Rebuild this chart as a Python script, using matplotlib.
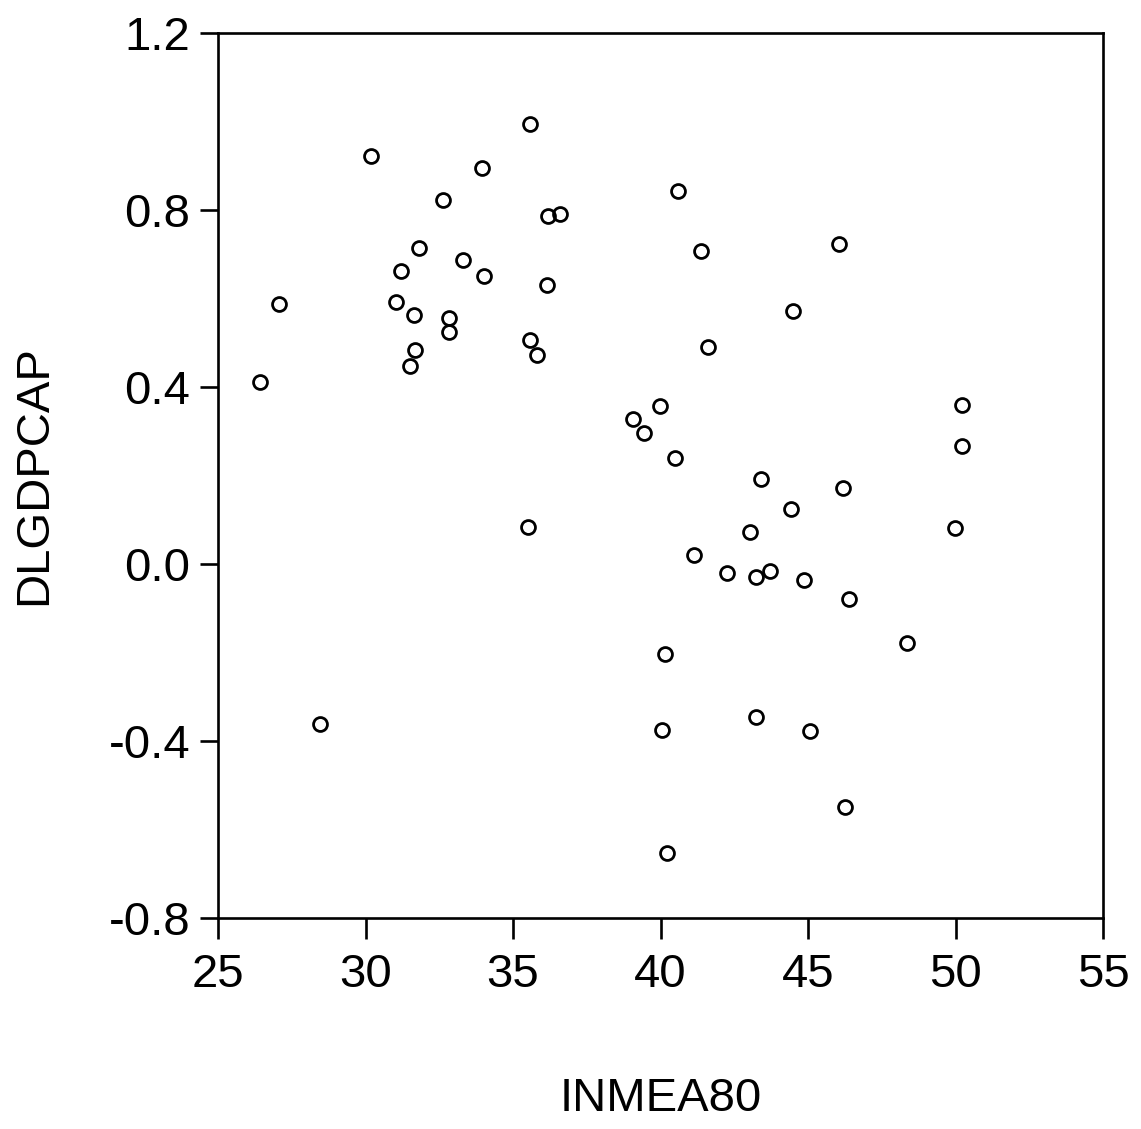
import matplotlib
matplotlib.use("Agg")
import matplotlib.pyplot as plt

# INMEA80 vs DLGDPCAP
inmea80 = [26.42, 27.07, 28.46, 30.19, 31.03, 31.20, 31.81, 31.64, 31.68, 31.51,
           32.63, 32.83, 32.83, 33.31, 33.95, 34.02, 35.58, 36.19, 36.59, 36.15,
           35.58, 35.81, 35.51, 39.07, 39.44, 39.98, 40.49, 40.59, 41.37, 41.61,
           40.15, 40.05, 40.22, 41.14, 42.25, 43.03, 43.24, 43.71, 43.41, 43.24,
           44.42, 44.49, 44.86, 45.07, 46.05, 46.19, 46.39, 46.25, 48.36, 49.98,
           50.22, 50.22]
dlgdpcap = [0.411, 0.588, -0.362, 0.922, 0.592, 0.662, 0.714, 0.563, 0.484, 0.447,
            0.823, 0.556, 0.524, 0.687, 0.895, 0.651, 0.994, 0.786, 0.791, 0.631,
            0.506, 0.472, 0.084, 0.328, 0.296, 0.357, 0.240, 0.843, 0.707, 0.490,
            -0.203, -0.375, -0.653, 0.020, -0.020, 0.072, -0.029, -0.016, 0.192, -0.346,
            0.124, 0.572, -0.036, -0.377, 0.723, 0.172, -0.079, -0.549, -0.178, 0.081,
            0.359, 0.267]

x_ticks = [25, 30, 35, 40, 45, 50, 55]
y_ticks = [-0.8, -0.4, 0.0, 0.4, 0.8, 1.2]

plt.rcParams["font.family"] = ["Liberation Sans", "DejaVu Sans"]

fig = plt.figure(figsize=(11.41, 11.29), dpi=100, facecolor="white")
ax = fig.add_axes([0.1911, 0.1869, 0.7756, 0.7839])

ax.plot(inmea80, dlgdpcap, linestyle="none", marker="o", markersize=10,
        markerfacecolor="none", markeredgecolor="black", markeredgewidth=2.0)

ax.set_xlim(25, 55)
ax.set_ylim(-0.8, 1.2)
ax.set_xticks(x_ticks)
ax.set_yticks(y_ticks)
ax.set_yticklabels([f"{v:.1f}" for v in y_ticks])

for s in ax.spines.values():
    s.set_linewidth(1.9)
ax.tick_params(axis="both", direction="out", width=1.9, labelsize=34, colors="black")
ax.tick_params(axis="x", length=15, pad=10)
ax.tick_params(axis="y", length=13, pad=7)

ax.set_xlabel("INMEA80", fontsize=34, labelpad=58)
ax.set_ylabel("DLGDPCAP", fontsize=34, labelpad=38)

plt.savefig("out.png", dpi=100, facecolor="white")
plt.close()
